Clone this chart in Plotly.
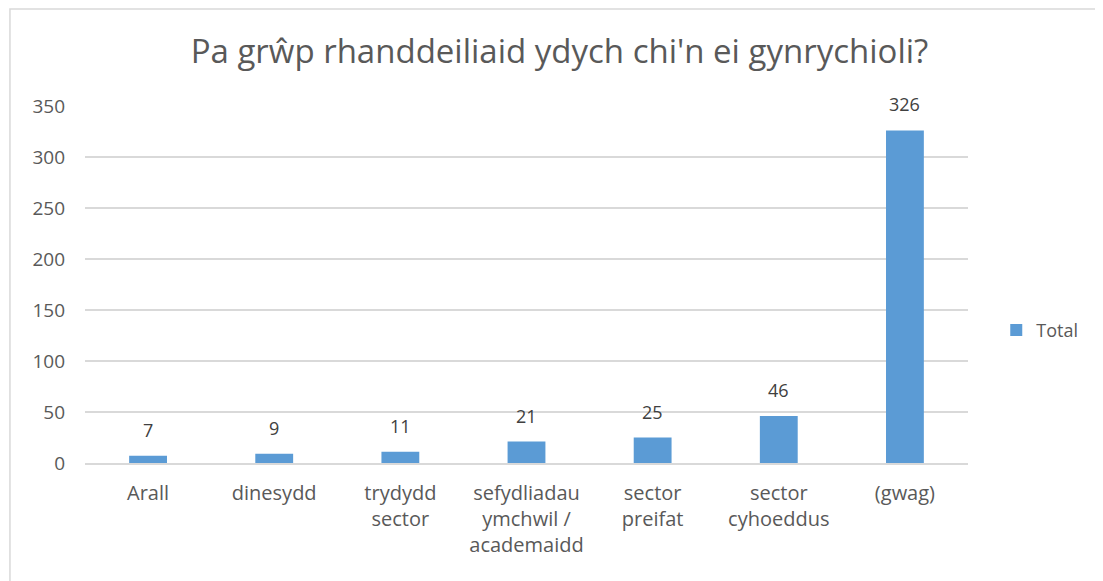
import plotly.graph_objects as go

categories = ["Arall", "dinesydd", "trydydd<br>sector", "sefydliadau<br>ymchwil /<br>academaidd",
              "sector<br>preifat", "sector<br>cyhoeddus", "(gwag)"]
totals = [7, 9, 11, 21, 25, 46, 326]
y_ticks = [0, 50, 100, 150, 200, 250, 300, 350]

bar_color = "#5b9bd5"
grey_text = "#595959"
grid = "#d9d9d9"
font_family = "Open Sans, Lato, sans-serif"

fig = go.Figure()
fig.add_trace(go.Bar(
    x=categories, y=totals, name="Total",
    marker=dict(color=bar_color, line=dict(width=0)),
))

# value labels above each bar
for cat, val in zip(categories, totals):
    fig.add_annotation(x=cat, y=val, text=str(val), showarrow=False,
                       yanchor="bottom", yshift=12,
                       font=dict(size=18, color="#404040", family=font_family))

# chart frame (left/top edges visible)
fig.add_shape(type="rect", xref="paper", yref="paper",
              x0=-0.085, x1=1.2, y0=-0.4, y1=1.272,
              line=dict(color=grid, width=1.5), layer="below")

# page body adds an 8px offset, so margins are shifted to compensate
fig.update_layout(
    width=1103, height=581,
    margin=dict(l=77, r=143, t=98, b=126),
    paper_bgcolor="white", plot_bgcolor="white",
    font=dict(family=font_family, size=18, color=grey_text),
    title=dict(text="Pa grŵp rhanddeiliaid ydych chi'n ei gynrychioli?",
               x=0.5, xanchor="center", y=0.925, yanchor="middle",
               font=dict(size=33, color=grey_text)),
    bargap=0.7,
    showlegend=True,
    legend=dict(x=1.032, y=0.372, xanchor="left", yanchor="middle",
                font=dict(size=18, color=grey_text)),
    xaxis=dict(showgrid=False, showline=True, linecolor=grid, linewidth=1.5,
               ticks="", tickfont=dict(size=20, color=grey_text), ticklabelstandoff=11),
    yaxis=dict(range=[0, 350], tickvals=y_ticks, showgrid=True, gridcolor=grid,
               gridwidth=1.5, zeroline=False, showline=False, ticks="",
               tickfont=dict(size=19, color=grey_text), ticklabelstandoff=19),
)

fig.write_html("out.html")
